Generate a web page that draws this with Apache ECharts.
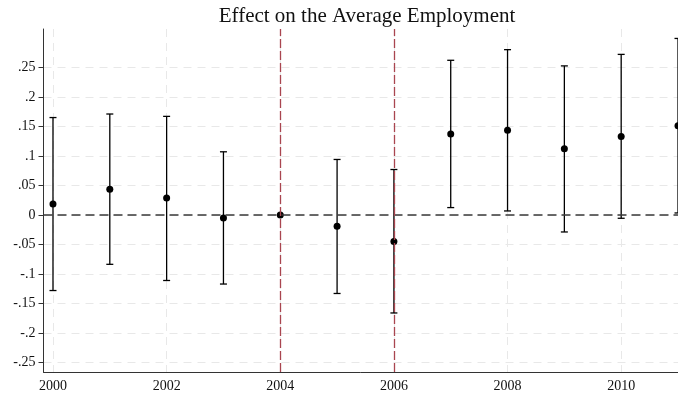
<!DOCTYPE html>
<html>
<head>
<meta charset="utf-8">
<script src="https://cdn.jsdelivr.net/npm/echarts@6/dist/echarts.min.js"></script>
<style>html,body{margin:0;padding:0;background:#fff}#c{width:678px;height:398px}</style>
</head>
<body>
<div id="c"></div>
<script>
var years = [2000, 2001, 2002, 2003, 2004, 2005, 2006, 2007, 2008, 2009, 2010, 2011];
var estimates = [0.0186, 0.0436, 0.0288, -0.005, 0, -0.019, -0.045, 0.137, 0.1436, 0.112, 0.133, 0.151];
var ciLower = [-0.128, -0.0836, -0.111, -0.117, 0, -0.133, -0.166, 0.0125, 0.0068, -0.0288, -0.0056, 0.0034];
var ciUpper = [0.165, 0.171, 0.167, 0.107, 0, 0.094, 0.077, 0.262, 0.280, 0.2525, 0.272, 0.299];
var xTicks = [2000, 2002, 2004, 2006, 2008, 2010];
var yTicks = [-0.25, -0.2, -0.15, -0.1, -0.05, 0, 0.05, 0.1, 0.15, 0.2, 0.25];
var eventYears = [2004, 2006];
var titleText = 'Effect on the Average Employment';

var serif = '"Liberation Serif", "Times New Roman", serif';
var pts = years.map(function (y, i) { return [y, estimates[i]]; });
var bars = years.map(function (y, i) { return [y, ciLower[i], ciUpper[i]]; });

function fmt(v) {
  var r = Math.round(v * 1000) / 1000;
  if (r === 0) return '0';
  var s = String(Math.abs(r)).replace(/^0/, '');
  return (r < 0 ? '-' : '') + s;
}

var chart = echarts.init(document.getElementById('c'), null, { renderer: 'canvas' });
chart.setOption({
  animation: false,
  backgroundColor: '#fff',
  title: {
    text: titleText, left: 362, top: 1, textAlign: 'center',
    textStyle: { fontFamily: serif, fontSize: 21, fontWeight: 'normal', color: '#111' }
  },
  grid: { left: 43.5, right: 0, top: 29, bottom: 26, containLabel: false },
  xAxis: {
    type: 'value', min: 1999.833, max: 2011,
    axisLine: { show: true, onZero: false, lineStyle: { color: '#333', width: 1 } },
    axisTick: { show: false, customValues: xTicks },
    axisLabel: { customValues: xTicks, fontFamily: serif, fontSize: 14, color: '#111', margin: 7,
      formatter: function (v) { return String(Math.round(v)); } },
    splitLine: { show: true, lineStyle: { color: '#e8e8e8', type: [8, 6], width: 1 } }
  },
  yAxis: {
    type: 'value', min: -0.266, max: 0.315,
    axisLine: { show: true, onZero: false, lineStyle: { color: '#333', width: 1 } },
    axisTick: { show: true, inside: false, length: 5, customValues: yTicks, lineStyle: { color: '#333' } },
    axisLabel: { customValues: yTicks, fontFamily: serif, fontSize: 14, color: '#111', margin: 8, formatter: fmt },
    splitLine: { show: true, lineStyle: { color: '#e8e8e8', type: [8, 6], width: 1 } }
  },
  series: [
    {
      type: 'custom',
      data: bars,
      clip: false,
      z: 3,
      renderItem: function (params, api) {
        var x = api.value(0), lo = api.value(1), hi = api.value(2);
        if (lo === hi) return null;
        var pLo = api.coord([x, lo]);
        var pHi = api.coord([x, hi]);
        var hw = 3.5;
        var style = { stroke: '#000', lineWidth: 1.3, fill: null };
        return {
          type: 'group',
          children: [
            { type: 'line', shape: { x1: pLo[0], y1: pLo[1], x2: pHi[0], y2: pHi[1] }, style: style },
            { type: 'line', shape: { x1: pLo[0] - hw, y1: pLo[1], x2: pLo[0] + hw, y2: pLo[1] }, style: style },
            { type: 'line', shape: { x1: pHi[0] - hw, y1: pHi[1], x2: pHi[0] + hw, y2: pHi[1] }, style: style }
          ]
        };
      }
    },
    {
      type: 'scatter',
      data: pts,
      symbol: 'circle',
      symbolSize: 7,
      clip: false,
      z: 4,
      itemStyle: { color: '#000', opacity: 1 },
      markLine: {
        silent: true,
        symbol: 'none',
        label: { show: false },
        data: [
          { yAxis: 0, lineStyle: { color: '#3a3a3a', type: [9, 5], width: 1.5 } }
        ].concat(eventYears.map(function (y) {
          return { xAxis: y, lineStyle: { color: '#a9454f', type: [9, 3], width: 1.3 } };
        }))
      }
    }
  ]
});
</script>
</body>
</html>
